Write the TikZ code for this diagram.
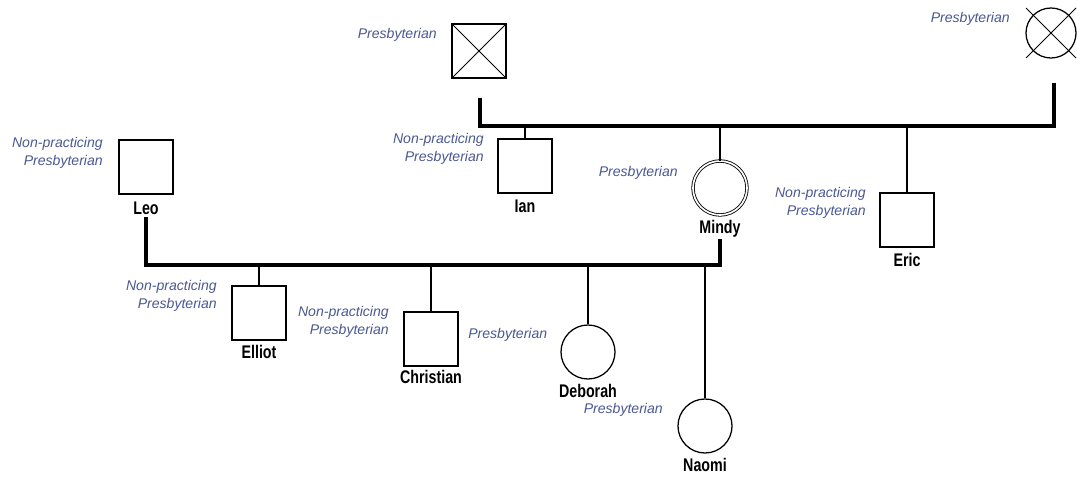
\documentclass[tikz,border=0pt]{standalone}
\usepackage{fontspec}
\setmainfont{Liberation Sans}
\newfontfamily\namefont[FakeStretch=0.78]{Liberation Sans}
\usepackage{xcolor}
\usepackage{tikz}
\usetikzlibrary{calc}
\definecolor{faithblue}{RGB}{74,88,146}

\begin{document}
\begin{tikzpicture}[x=0.025cm,y=-0.025cm,
  male/.style={rectangle,draw,line width=0.9pt,minimum size=1.35cm,inner sep=0pt},
  female/.style={circle,draw,line width=0.9pt,minimum size=1.35cm,inner sep=0pt},
  who/.style={anchor=base,inner sep=1pt,font=\namefont\bfseries\fontsize{13}{15}\selectfont},
  faith/.style={anchor=east,align=right,text=faithblue,inner sep=0pt,font=\itshape\fontsize{10}{12.5}\selectfont},
  bar/.style={line width=2.2pt},
  kid/.style={line width=1.4pt},
  cross/.style={line width=0.7pt}
]
\useasboundingbox (0,0) rectangle (1077,477);

% Nodes
\node[male] (gf) at (479,51) {};
\node[female,minimum size=1.25cm] (gm) at (1051,33) {};
\node[male] (ian) at (525,166) {};
\node[female,line width=0.6pt,double,double distance=1.2pt] (mindy) at (720,188) {};
\node[male] (eric) at (907,220) {};
\node[male] (leo) at (146,167) {};
\node[male] (elliot) at (259,313) {};
\node[male] (christian) at (431,339) {};
\node[female] (deborah) at (588,352) {};
\node[female] (naomi) at (705,426) {};

% Names
\node[who] (leoN) at (146,215) {Leo};
\node[who] (ianN) at (525,213) {Ian};
\node[who] (mindyN) at (720,234) {Mindy};
\node[who] (ericN) at (907,267) {Eric};
\node[who] (elliotN) at (259,359) {Elliot};
\node[who] (christianN) at (431,384) {Christian};
\node[who] (deborahN) at (588,398) {Deborah};
\node[who] (naomiN) at (705,472) {Naomi};

% Religion
\node[faith] (gfF) at (437,35) {Presbyterian};
\node[faith] (gmF) at (1010,19) {Presbyterian};
\node[faith] (ianF) at (484,149) {Non-practicing\\Presbyterian};
\node[faith] (leoF) at (103,153) {Non-practicing\\Presbyterian};
\node[faith] (mindyF) at (678,173) {Presbyterian};
\node[faith] (ericF) at (866,203) {Non-practicing\\Presbyterian};
\node[faith] (elliotF) at (217,296) {Non-practicing\\Presbyterian};
\node[faith] (christianF) at (389,322) {Non-practicing\\Presbyterian};
\node[faith,anchor=west] (deborahF) at (468,335) {Presbyterian};
\node[faith] (naomiF) at (663,410) {Presbyterian};

% Deceased
\draw[cross] (gf.north west) -- (gf.south east);
\draw[cross] (gf.north east) -- (gf.south west);
\draw[cross] ($(gm.center)+(-25,-25)$) -- ($(gm.center)+(25,25)$);
\draw[cross] ($(gm.center)+(25,-25)$) -- ($(gm.center)+(-25,25)$);

% Couples
\coordinate (gfD) at (480,98);
\coordinate (gmD) at (1054,83);
\coordinate (sibs1) at (1054,126);
\draw[bar] (gfD) |- (sibs1) -- (gmD);
\coordinate (sibs2) at (720,265);
\draw[bar] (leoN.south) |- (sibs2) -- (mindyN.south);

% Children
\draw[kid] (ian.north) -- (ian.north |- sibs1);
\draw[kid] (mindy.north) -- (mindy.north |- sibs1);
\draw[kid] (eric.north) -- (eric.north |- sibs1);
\draw[kid] (elliot.north) -- (elliot.north |- sibs2);
\draw[kid] (christian.north) -- (christian.north |- sibs2);
\draw[kid] (deborah.north) -- (deborah.north |- sibs2);
\draw[kid] (naomi.north) -- (naomi.north |- sibs2);
\end{tikzpicture}
\end{document}
